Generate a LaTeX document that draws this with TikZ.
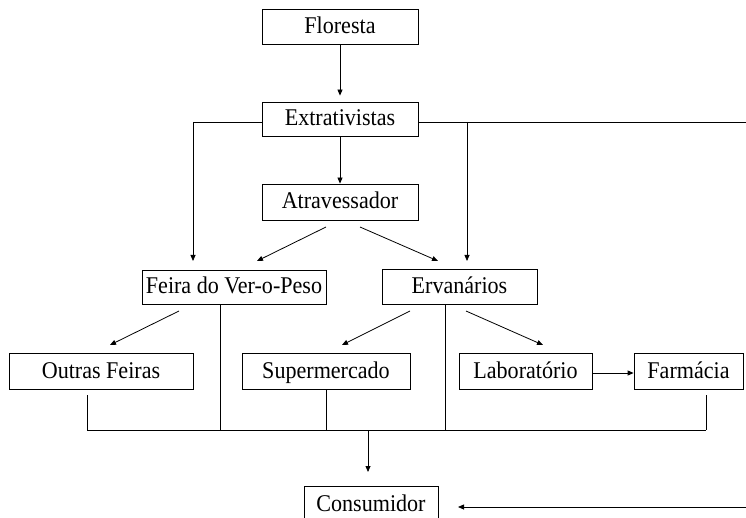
\documentclass[tikz,border=0pt]{standalone}
\usepackage{fontspec}
\setmainfont{Liberation Serif}[FakeStretch=0.92]
\usetikzlibrary{arrows.meta}
\begin{document}
\begin{tikzpicture}[x=1pt,y=-1pt,
  box/.style={draw,line width=0.8pt,inner sep=0pt,anchor=center,text height=16pt,text depth=2pt,font=\fontsize{24}{26}\selectfont},
  ln/.style={line width=0.8pt},
  arr/.style={line width=0.8pt,-{Triangle[length=6pt,width=5pt]}}]
\useasboundingbox (0,0) rectangle (746,518);
\clip (0,0) rectangle (746,518);
\fill[white] (0,0) rectangle (746,518);
% boxes
\node[box,minimum width=156pt,minimum height=35pt] (flo) at (340,26.5) {Floresta};
\node[box,minimum width=156pt,minimum height=34pt] (ext) at (340,119) {Extrativistas};
\node[box,minimum width=156pt,minimum height=36pt] (atr) at (340,202) {Atravessador};
\node[box,minimum width=184pt,minimum height=34pt] (fei) at (234,287) {Feira do Ver-o-Peso};
\node[box,minimum width=155pt,minimum height=35pt] (erv) at (459.5,286.5) {Ervanários};
\node[box,minimum width=184pt,minimum height=36pt] (out) at (101,371) {Outras Feiras};
\node[box,minimum width=168pt,minimum height=36pt] (sup) at (326,371) {Supermercado};
\node[box,minimum width=133pt,minimum height=36pt] (lab) at (525.5,371) {Laboratório};
\node[box,minimum width=109pt,minimum height=36pt] (far) at (688.5,371) {Farmácia};
\node[box,minimum width=134pt,minimum height=36pt] (con) at (371,504) {Consumidor};
% junction coordinates
\coordinate (eL) at (262,122);
\coordinate (eR) at (418,122);
\coordinate (cL) at (193,122);
\coordinate (cM) at (467,122);
\coordinate (cR) at (747,122);
\coordinate (fT) at (193,261);
\coordinate (eT) at (467,261);
\coordinate (a1) at (326,227);
\coordinate (a1e) at (257,261);
\coordinate (a2) at (360,227);
\coordinate (a2e) at (438,261);
\coordinate (f1) at (179,311);
\coordinate (f1e) at (110,345);
\coordinate (fv) at (220,304);
\coordinate (fvb) at (220,430);
\coordinate (r1) at (410,311);
\coordinate (r1e) at (342,345);
\coordinate (rv) at (445,304);
\coordinate (rvb) at (445,430);
\coordinate (r2) at (466,311);
\coordinate (r2e) at (543,345);
\coordinate (o1) at (87,395);
\coordinate (o2) at (87,430);
\coordinate (s1) at (326,389);
\coordinate (s2) at (326,430);
\coordinate (p1) at (706,395);
\coordinate (p2) at (706,430);
\coordinate (m1) at (368,430);
\coordinate (m2) at (368,472);
\coordinate (k1) at (747,507);
\coordinate (k2) at (458,507);
% connectors
\draw[arr,shorten >=6pt] (flo.south) -- (ext.north);
\draw[arr] (ext.south) -- (atr.north);
\draw[ln] (eL) -- (cL);
\draw[arr] (cL) -- (fT);
\draw[ln] (eR) -- (cR);
\draw[arr] (cM) -- (eT);
\draw[arr] (a1) -- (a1e);
\draw[arr] (a2) -- (a2e);
\draw[arr] (f1) -- (f1e);
\draw[ln] (fv) -- (fvb);
\draw[arr] (r1) -- (r1e);
\draw[ln] (rv) -- (rvb);
\draw[arr] (r2) -- (r2e);
\draw[arr] (lab.east |- 0,373) -- (far.west |- 0,373);
\draw[ln] (o1) -- (o2);
\draw[ln] (s1) -- (s2);
\draw[ln] (p1) -- (p2);
\draw[ln] (o2) -- (p2);
\draw[arr] (m1) -- (m2);
\draw[arr] (k1) -- (k2);
\end{tikzpicture}
\end{document}
